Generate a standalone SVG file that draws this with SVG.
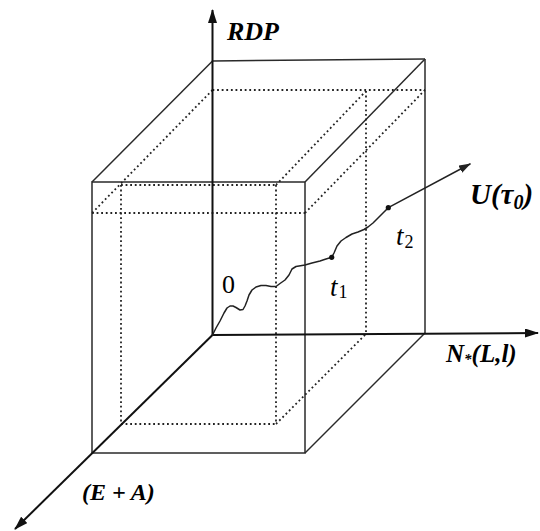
<svg xmlns="http://www.w3.org/2000/svg" width="540" height="531" viewBox="0 0 540 531">
<style>
.box{stroke:#2a2a2a;stroke-width:1.5;fill:none}
.dot{stroke:#222;stroke-width:1.8;fill:none;stroke-dasharray:1.8 2.8}
.axis{stroke:#111;stroke-width:2;fill:none}
.curve{stroke:#222;stroke-width:1.5;fill:none;stroke-linejoin:round;stroke-linecap:round}
.lbl{font-weight:bold;font-style:italic;fill:#000}
.txt{fill:#000}
</style>
<defs>
<marker id="ah" markerUnits="userSpaceOnUse" markerWidth="14" markerHeight="9" refX="13" refY="4.5" orient="auto">
<path d="M0,0 L14,4.5 L0,9 z" fill="#111"/>
</marker>
<marker id="ah2" markerUnits="userSpaceOnUse" markerWidth="12" markerHeight="8" refX="11" refY="4" orient="auto">
<path d="M0,0 L12,4 L0,8 z" fill="#222"/>
</marker>
</defs>
<rect width="540" height="531" fill="#fff"/>
<g id="box">
<rect class="box" x="92" y="182" width="213" height="271"/>
<line class="box" x1="212.5" y1="61" x2="425" y2="59"/>
<line class="box" x1="425" y1="59" x2="425" y2="333"/>
<line class="box" x1="92" y1="182" x2="212.5" y2="61"/>
<line class="box" x1="305" y1="182" x2="425" y2="59"/>
<line class="box" x1="305" y1="453" x2="425" y2="333"/>
</g>
<g id="dotted">
<line class="dot" x1="212.5" y1="90" x2="425" y2="90"/>
<line class="dot" x1="212.5" y1="90" x2="92" y2="213"/>
<line class="dot" x1="92" y1="213" x2="305" y2="213"/>
<line class="dot" x1="305" y1="213" x2="425" y2="90"/>
<line class="dot" x1="121" y1="185" x2="276" y2="185"/>
<line class="dot" x1="276" y1="185" x2="366" y2="91"/>
<line class="dot" x1="121" y1="185" x2="121" y2="424"/>
<line class="dot" x1="276" y1="185" x2="276" y2="424"/>
<line class="dot" x1="366" y1="91" x2="366" y2="334"/>
<line class="dot" x1="121" y1="424" x2="276" y2="424"/>
<line class="dot" x1="276" y1="424" x2="366" y2="334"/>
</g>
<g id="connectors">
<line class="axis" x1="212.5" y1="336" x2="212.5" y2="10" marker-end="url(#ah)"/>
<line class="axis" x1="212.5" y1="335" x2="538" y2="333" marker-end="url(#ah)"/>
<line class="axis" x1="212.5" y1="335" x2="15" y2="529" marker-end="url(#ah)"/>
<polyline class="curve" points="212.5,335 216,328 220,321 224,313 227,308 230,306 233,306 236,307.5 240,310 243,309.5 245,306 247,301 249,295 252,290 256,287 261,285.5 266,285.5 271,286.5 276,286.5 280,283.5 285,280 289,275 292,269 296,266.5 305,265 312,263 320,261 326,259 331.7,257.3 334,253 337,246 341,241 346,237.5 352,234 358,232 364,229.5 368,227 373,223 378,218 383,213 388.3,207.7"/>
<line class="curve" x1="388.3" y1="207.7" x2="470" y2="164" marker-end="url(#ah2)"/>
<circle cx="331.7" cy="257.3" r="2.6" fill="#111"/>
<circle cx="388.3" cy="207.7" r="2.6" fill="#111"/>
</g>
<g id="labels" font-family="Liberation Serif, DejaVu Serif, serif">
<text class="lbl" font-family="Liberation Serif, serif" x="227" y="40" font-size="26">RDP</text>
<text class="lbl" font-family="Liberation Serif, serif" x="470" y="204" font-size="29">U(τ<tspan font-size="20" dy="5">0</tspan><tspan dy="-5">)</tspan></text>
<text class="lbl" font-family="Liberation Serif, serif" x="446" y="362" font-size="25">N<tspan font-size="15" dy="2">*</tspan><tspan dy="-2">(L,l)</tspan></text>
<text class="lbl" font-family="Liberation Serif, serif" x="82" y="500" font-size="24">(E + A)</text>
<text class="txt" font-family="Liberation Serif, serif" x="222" y="293" font-size="26">0</text>
<text class="txt" font-family="Liberation Serif, serif" x="330" y="296" font-size="27" font-style="italic">t<tspan font-size="18" font-style="normal" dx="1" dy="2">1</tspan></text>
<text class="txt" font-family="Liberation Serif, serif" x="396" y="245" font-size="27" font-style="italic">t<tspan font-size="18" font-style="normal" dx="1" dy="3">2</tspan></text>
</g>
</svg>
